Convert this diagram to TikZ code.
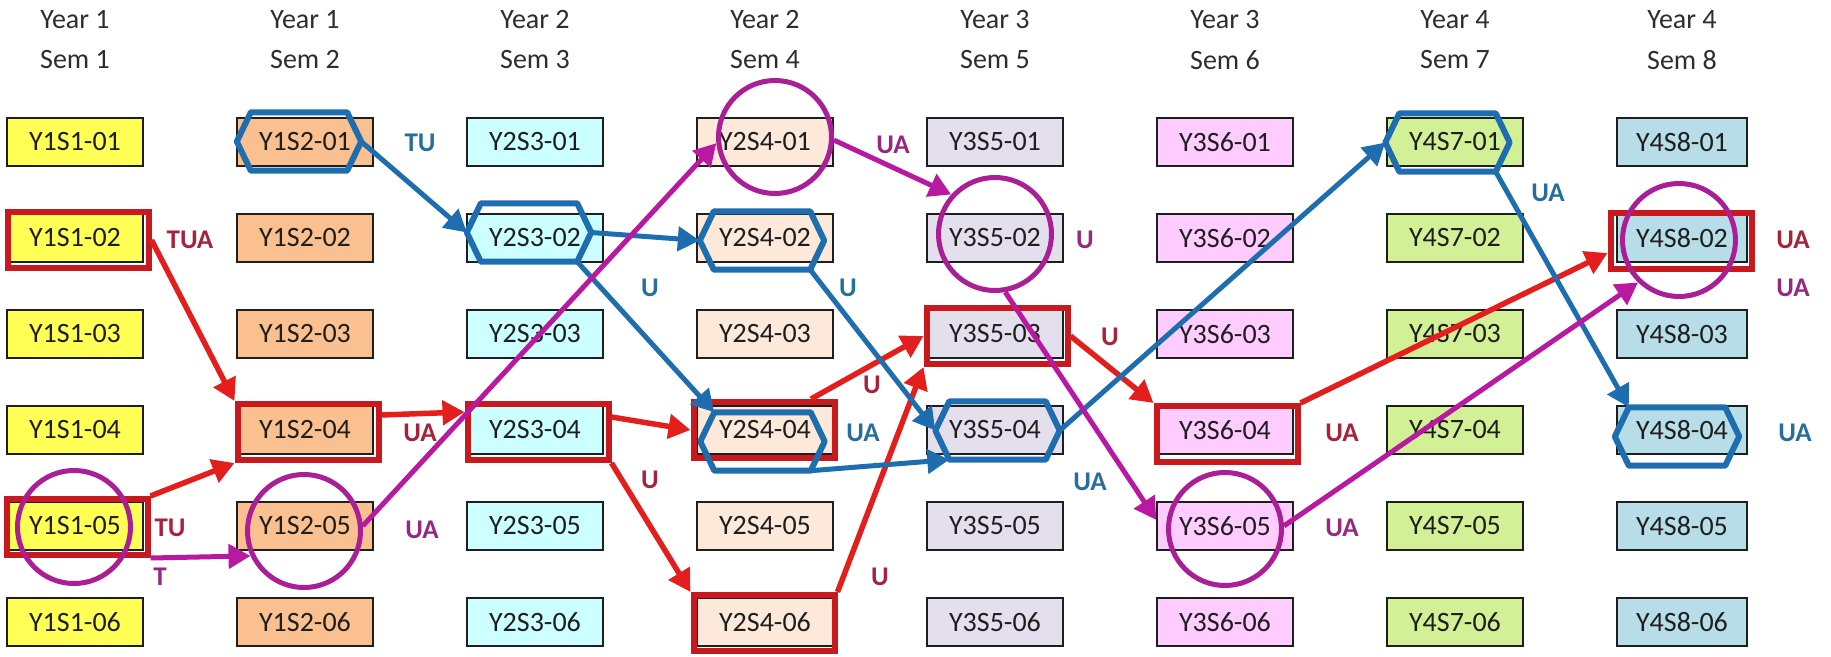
\documentclass[tikz,border=0pt]{standalone}
\usepackage{fontspec}
\setmainfont{Carlito}
\usetikzlibrary{arrows.meta,calc}
\definecolor{col1}{RGB}{255,255,85}
\definecolor{col2}{RGB}{250,192,143}
\definecolor{col3}{RGB}{204,255,255}
\definecolor{col4}{RGB}{253,233,217}
\definecolor{col5}{RGB}{228,223,236}
\definecolor{col6}{RGB}{255,204,255}
\definecolor{col7}{RGB}{210,240,150}
\definecolor{col8}{RGB}{183,222,232}
\definecolor{boxline}{RGB}{30,30,30}
\definecolor{txt}{RGB}{30,30,30}
\definecolor{headc}{RGB}{45,45,45}
\definecolor{rectred}{RGB}{200,25,30}
\definecolor{arrred}{RGB}{228,30,28}
\definecolor{hexblue}{RGB}{30,110,175}
\definecolor{ringc}{RGB}{170,30,150}
\definecolor{arrmag}{RGB}{185,25,160}
\definecolor{labred}{RGB}{165,35,60}
\definecolor{labblue}{RGB}{40,110,155}
\definecolor{labmag}{RGB}{150,40,130}
\newcommand\drawhexagon[1]{\draw[hexline] (#1.west) -- ($(#1.north west)+(14,0)$) -- ($(#1.north east)+(-14,0)$) -- (#1.east) -- ($(#1.south east)+(-14,0)$) -- ($(#1.south west)+(14,0)$) -- cycle;}
\begin{document}
\begin{tikzpicture}[x=1pt,y=-1pt,
  box/.style={draw=boxline, line width=1.4pt, minimum height=48pt, inner sep=0pt, text=txt, font=\fontsize{28}{30}\selectfont},
  head/.style={text=headc, font=\fontsize{28}{30}\selectfont, inner sep=0pt},
  redbox/.style={draw=rectred, line width=6pt, minimum width=141pt, minimum height=56pt, inner sep=0pt},
  hexbox/.style={minimum width=124pt, minimum height=58pt, inner sep=0pt},
  hexline/.style={draw=hexblue, line width=6pt, line join=round},
  ring/.style={circle, draw=ringc, line width=5pt, minimum size=113pt, inner sep=0pt},
  rarr/.style={draw=arrred, line width=5.5pt, -{Triangle[length=22pt,width=24pt]}},
  barr/.style={draw=hexblue, line width=5pt, -{Triangle[length=22pt,width=24pt]}},
  marr/.style={draw=arrmag, line width=5pt, -{Triangle[length=22pt,width=24pt]}},
  lab/.style={font=\bfseries\fontsize{27}{30}\selectfont, inner sep=0pt}]
\useasboundingbox (0,0) rectangle (1831,656);
% columns of courses
\foreach \c/\cx/\w in {1/75/136,2/305/136,3/535/136,4/765/136,5/995/136,6/1225/136,7/1455/136,8/1682/130} {
  \pgfmathtruncatemacro\yr{(\c+1)/2}
  \node[head] (hy\c) at (\cx,20) {Year \yr};
  \node[head] (hs\c) at (\cx,60) {Sem \c};
  \foreach \r in {1,...,6} {
    \node[box, fill=col\c, minimum width=\w pt] (n\c-\r) at (\cx,{142+96*(\r-1)}) {Y\yr S\c-0\r};
  }
}
% red rectangles
\node[redbox] (R1-2) at (78,240) {};
\node[redbox] (R1-5) at (77,527) {};
\node[redbox] (R2-4) at (308,432) {};
\node[redbox] (R3-4) at (538,432) {};
\node[redbox] (R4-4) at (764,430) {};
\node[redbox] (R4-6) at (764,623) {};
\node[redbox] (R5-3) at (997,336) {};
\node[redbox] (R6-4) at (1227,434) {};
\node[redbox] (R8-2) at (1681,241) {};
% blue hexagons
\node[hexbox] (H2-1) at (299,141.5) {};
\node[hexbox] (H3-2) at (529,232.5) {};
\node[hexbox] (H4-2) at (762,240.5) {};
\node[hexbox] (H4-4) at (762.5,441.5) {};
\node[hexbox] (H5-4) at (997.5,430.5) {};
\node[hexbox] (H7-1) at (1447.5,142.5) {};
\node[hexbox] (H8-4) at (1677,436.5) {};
\drawhexagon{H2-1}
\drawhexagon{H3-2}
\drawhexagon{H4-2}
\drawhexagon{H4-4}
\drawhexagon{H5-4}
\drawhexagon{H7-1}
\drawhexagon{H8-4}
% magenta circles
\node[ring] (C1-5) at (74,527) {};
\node[ring] (C2-5) at (304,531) {};
\node[ring] (C4-1) at (775,137) {};
\node[ring] (C5-2) at (995,234) {};
\node[ring] (C6-5) at (1225,529) {};
\node[ring] (C8-2) at (1679,240) {};
% red arrows
\draw[rarr] (R1-2.east) -- (R2-4.north west);
\draw[rarr] (R1-5.north east) -- (R2-4.south west);
\draw[rarr] ($(R2-4.east)+(0,-17)$) -- ($(R3-4.west)+(0,-20)$);
\draw[rarr] ($(R3-4.east)+(0,-15)$) -- (R4-4.west);
\draw[rarr] (R3-4.south east) -- (R4-6.north west);
\draw[rarr] ($(R4-4.north)+(47,0)$) -- (R5-3.west);
\draw[rarr] (R4-6.north east) -- (R5-3.south west);
\draw[rarr] (R5-3.east) -- (R6-4.north west);
\draw[rarr] (R6-4.north east) -- ($(R8-2.west)+(0,12)$);
% blue arrows
\draw[barr] (H2-1.east) -- (H3-2.west);
\draw[barr] (H3-2.east) -- (H4-2.west);
\draw[barr] ($(H3-2.south east)+(-14,0)$) -- ($(H4-4.north west)+(14,0)$);
\draw[barr] ($(H4-2.south east)+(-14,0)$) -- (H5-4.west);
\draw[barr] ($(H4-4.south east)+(-14,0)$) -- ($(H5-4.south west)+(14,0)$);
\draw[barr] (H5-4.east) -- (H7-1.west);
\draw[barr] ($(H7-1.south east)+(-14,0)$) -- ($(H8-4.north west)+(14,0)$);
% magenta arrows
\draw[marr] (R1-5.south east) -- (C2-5.205);
\draw[marr] (C2-5.5) -- (C4-1.186);
\draw[marr] (C4-1.357) -- (C5-2.138);
\draw[marr] (C5-2.280) -- ($(n6-5.west)+(0,-6)$);
\draw[marr] (C6-5.3) -- (C8-2.226);
% labels
\node[lab, text=labblue] (l1) at (420,143) {TU};
\node[lab, text=labred] (l2) at (190,240) {TUA};
\node[lab, text=labred] (l3) at (170,528) {TU};
\node[lab, text=labmag] (l4) at (160,577) {T};
\node[lab, text=labred] (l5) at (420,433) {UA};
\node[lab, text=labmag] (l6) at (422,530) {UA};
\node[lab, text=labblue] (l7) at (650,288) {U};
\node[lab, text=labmag] (l8) at (893,145) {UA};
\node[lab, text=labblue] (l9) at (848,288) {U};
\node[lab, text=labred] (l10) at (650,480) {U};
\node[lab, text=labred] (l11) at (872,385) {U};
\node[lab, text=labblue] (l12) at (863,433) {UA};
\node[lab, text=labred] (l13) at (880,577) {U};
\node[lab, text=labmag] (l14) at (1085,240) {U};
\node[lab, text=labred] (l15) at (1110,337) {U};
\node[lab, text=labblue] (l16) at (1090,482) {UA};
\node[lab, text=labred] (l17) at (1342,433) {UA};
\node[lab, text=labmag] (l18) at (1342,528) {UA};
\node[lab, text=labblue] (l19) at (1548,193) {UA};
\node[lab, text=labred] (l20) at (1793,240) {UA};
\node[lab, text=labmag] (l21) at (1793,288) {UA};
\node[lab, text=labblue] (l22) at (1795,433) {UA};
\end{tikzpicture}
\end{document}
